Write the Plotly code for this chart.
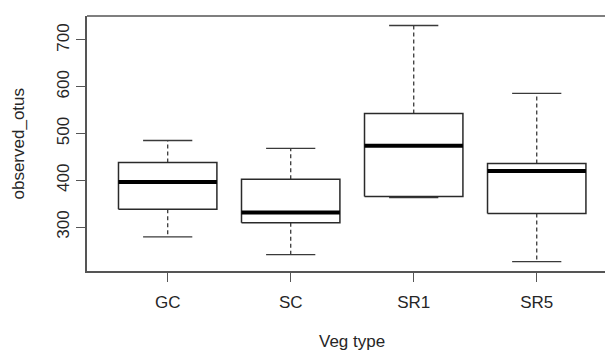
import plotly.graph_objects as go

categories = ["GC", "SC", "SR1", "SR5"]
lower_whisker = [279, 241, 363, 226]
q1 = [338, 309, 365, 329]
median = [396, 331, 474, 420]
q3 = [438, 402, 543, 436]
upper_whisker = [485, 468, 731, 586]
y_ticks = [300, 400, 500, 600, 700]

BOX_HALF = 0.4
CAP_HALF = 0.2
xs = list(range(1, len(categories) + 1))

box_x, box_y = [], []
med_x, med_y = [], []
wh_x, wh_y = [], []
cap_x, cap_y = [], []
for i, x in enumerate(xs):
    box_x += [x - BOX_HALF, x + BOX_HALF, x + BOX_HALF, x - BOX_HALF, x - BOX_HALF, None]
    box_y += [q1[i], q1[i], q3[i], q3[i], q1[i], None]
    med_x += [x - BOX_HALF, x + BOX_HALF, None]
    med_y += [median[i], median[i], None]
    wh_x += [x, x, None, x, x, None]
    wh_y += [q3[i], upper_whisker[i], None, q1[i], lower_whisker[i], None]
    cap_x += [x - CAP_HALF, x + CAP_HALF, None, x - CAP_HALF, x + CAP_HALF, None]
    cap_y += [upper_whisker[i], upper_whisker[i], None, lower_whisker[i], lower_whisker[i], None]

fig = go.Figure()
fig.add_trace(go.Scatter(x=wh_x, y=wh_y, mode="lines",
                         line=dict(color="#3a3a3a", width=1.3, dash="4px,3px"),
                         hoverinfo="skip", showlegend=False))
fig.add_trace(go.Scatter(x=cap_x, y=cap_y, mode="lines",
                         line=dict(color="#3a3a3a", width=1.3),
                         hoverinfo="skip", showlegend=False))
fig.add_trace(go.Scatter(x=box_x, y=box_y, mode="lines",
                         line=dict(color="#2a2a2a", width=1.5),
                         hoverinfo="skip", showlegend=False))
fig.add_trace(go.Scatter(x=med_x, y=med_y, mode="lines",
                         line=dict(color="#000000", width=4),
                         hoverinfo="skip", showlegend=False))

FONT = "Liberation Sans, Arial, sans-serif"
TXT = "#262626"
FS = 17
L, R, T, B = 87, 0, 16, 90
W, H = 605, 361
pw, ph = W - L - R, H - T - B

fig.update_layout(
    width=W, height=H,
    margin=dict(l=L, r=R, t=T, b=B, pad=0),
    paper_bgcolor="white", plot_bgcolor="white",
    font=dict(family=FONT, size=FS, color=TXT),
    xaxis=dict(range=[0.344, 4.555], tickmode="array", tickvals=xs, ticktext=categories,
               showgrid=False, zeroline=False, showline=True, linecolor="#555555", linewidth=1.5,
               ticks="outside", ticklen=9, tickwidth=1.3, tickcolor="#555555",
               ticklabelstandoff=6, tickfont=dict(family=FONT, size=FS, color=TXT)),
    yaxis=dict(range=[205.9, 751.3], tickmode="array", tickvals=y_ticks,
               showgrid=False, zeroline=False, showline=True, linecolor="#555555", linewidth=1.5,
               ticks="outside", ticklen=9, tickwidth=1.3, tickcolor="#555555",
               tickangle=-90, ticklabelstandoff=0, tickfont=dict(family=FONT, size=FS, color=TXT)),
    shapes=[dict(type="line", xref="paper", yref="paper", x0=0, x1=1, y0=1, y1=1,
                 line=dict(color="#555555", width=1.5))],
    annotations=[
        dict(text="observed_otus", xref="paper", yref="paper",
             x=(18 - L) / pw, y=0.5, xanchor="center", yanchor="middle",
             textangle=-90, showarrow=False, font=dict(family=FONT, size=FS, color=TXT)),
        dict(text="Veg type", xref="paper", yref="paper",
             x=(351.7 - L) / pw, y=(H - B - 341) / ph, xanchor="center", yanchor="middle",
             showarrow=False, font=dict(family=FONT, size=FS, color=TXT)),
    ],
)

fig.write_html("out.html", config={"displayModeBar": False},
               post_script="document.body.style.margin='0';document.body.style.overflow='hidden';")
